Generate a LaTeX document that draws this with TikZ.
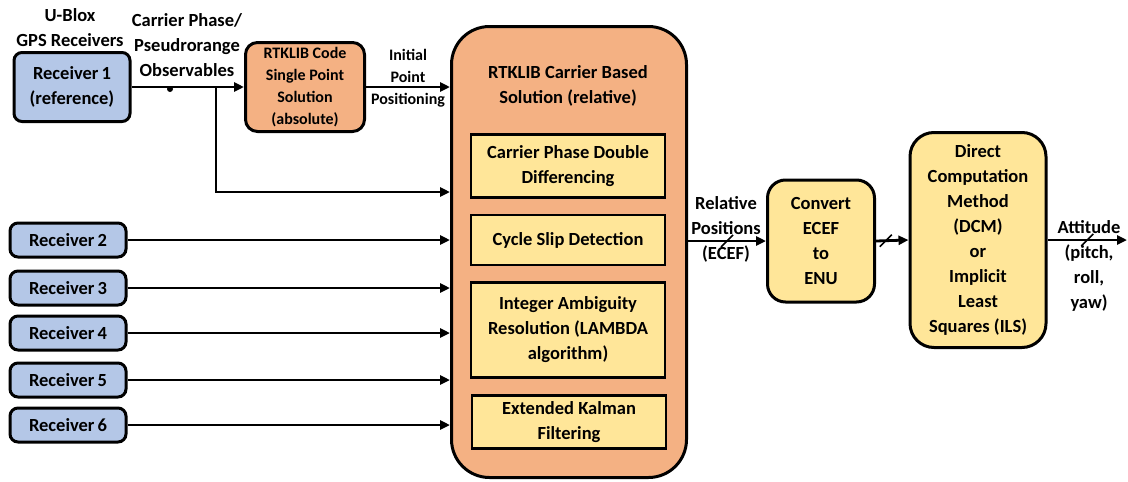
\documentclass[tikz,border=0pt]{standalone}
\usepackage{fontspec}
\setmainfont{Carlito}
\usetikzlibrary{arrows.meta,calc}
\definecolor{RxBlue}{HTML}{B4C7E7}
\definecolor{RtkOrange}{HTML}{F4B183}
\definecolor{StageYellow}{HTML}{FFE699}

\begin{document}
\begin{tikzpicture}[x=1pt,y=-1pt,
  every node/.style={font=\bfseries\fontsize{18.5}{25}\selectfont,align=center},
  small/.style={font=\bfseries\fontsize{16}{22}\selectfont},
  rx/.style={draw,fill=RxBlue,line width=3pt,rounded corners=8pt,minimum width=116pt},
  rtk/.style={draw,fill=RtkOrange,line width=3pt},
  stage/.style={draw,fill=StageYellow,line width=2.2pt,minimum width=194pt},
  proc/.style={draw,fill=StageYellow,line width=3pt,rounded corners=18pt},
  flow/.style={line width=2.8pt,-{Triangle[length=10pt,width=9pt]}},
  tick/.style={line width=1.6pt}]
\useasboundingbox (0,0) rectangle (1128,482);
% receivers
\node[rx,minimum height=69pt] (r1) at (72,87) {Receiver\,1\\(reference)};
\foreach \i/\y in {2/240,3/288,4/333,5/380,6/425}
  \node[rx,minimum height=34pt] (r\i) at (68,\y) {Receiver\,\i};
\node (ublox) at (70,28) {U-Blox\\GPS Receivers};
\node (obs) at (187,45) {Carrier Phase/\\Pseudrorange\\Observables};
% single point solution
\node[rtk,small,rounded corners=12pt,inner sep=2pt,minimum width=119pt,minimum height=89pt] (spp) at (305,87) {RTKLIB Code\\Single Point\\Solution\\(absolute)};
\node[small] (ipp) at (408,78) {Initial\\Point\\Positioning};
% relative solution
\node[rtk,rounded corners=38pt,minimum width=235pt,minimum height=451pt] (rel) at (569,252) {};
\node (reltitle) at (568,86) {RTKLIB Carrier Based\\Solution (relative)};
\node[stage,minimum height=63pt] (dd) at (568,166) {Carrier Phase Double\\Differencing};
\node[stage,minimum height=50pt] (cs) at (568,240) {Cycle Slip Detection};
\node[stage,minimum height=95pt] (ia) at (568,330) {Integer Ambiguity\\Resolution (LAMBDA\\algorithm)};
\node[stage,minimum height=53pt] (ekf) at (569,422) {Extended Kalman\\Filtering};
% attitude
\node[proc,minimum width=107pt,minimum height=122pt] (enu) at (821,241) {Convert\\ECEF\\to\\ENU};
\node[proc,rounded corners=24pt,minimum width=136pt,minimum height=215pt] (dcm) at (978,240) {Direct\\Computation\\Method\\(DCM)\\or\\Implicit\\Least\\Squares (ILS)};
\node (relpos) at (726,229) {Relative\\Positions\\(ECEF)};
\node (att) at (1089,266) {Attitude\\(pitch,\\roll,\\yaw)};
% connectors
\coordinate (br) at (216,87);
\coordinate (fb) at (216,192);
\coordinate (out) at (1127,240);
\draw[flow] (r1) -- (spp);
\fill (170,89) circle (3pt);
\draw[flow] (br) -- (fb) -- (fb -| rel.west);
\draw[flow] (spp) -- (spp -| rel.west);
\foreach \i in {2,...,6}
  \draw[flow,line width=2.5pt] (r\i) -- (r\i -| rel.west);
\draw[flow] (enu.west -| rel.east) -- coordinate[pos=.5] (s1) (enu.west);
\draw[flow] (enu.east) -- coordinate[pos=.3] (s2) (dcm.west);
\draw[flow] (dcm.east) -- coordinate[pos=.5] (s3) (out);
\foreach \s in {s1,s2,s3}
  \draw[tick] ($(\s)+(-6,6)$) -- ($(\s)+(6,-6)$);
\end{tikzpicture}
\end{document}
